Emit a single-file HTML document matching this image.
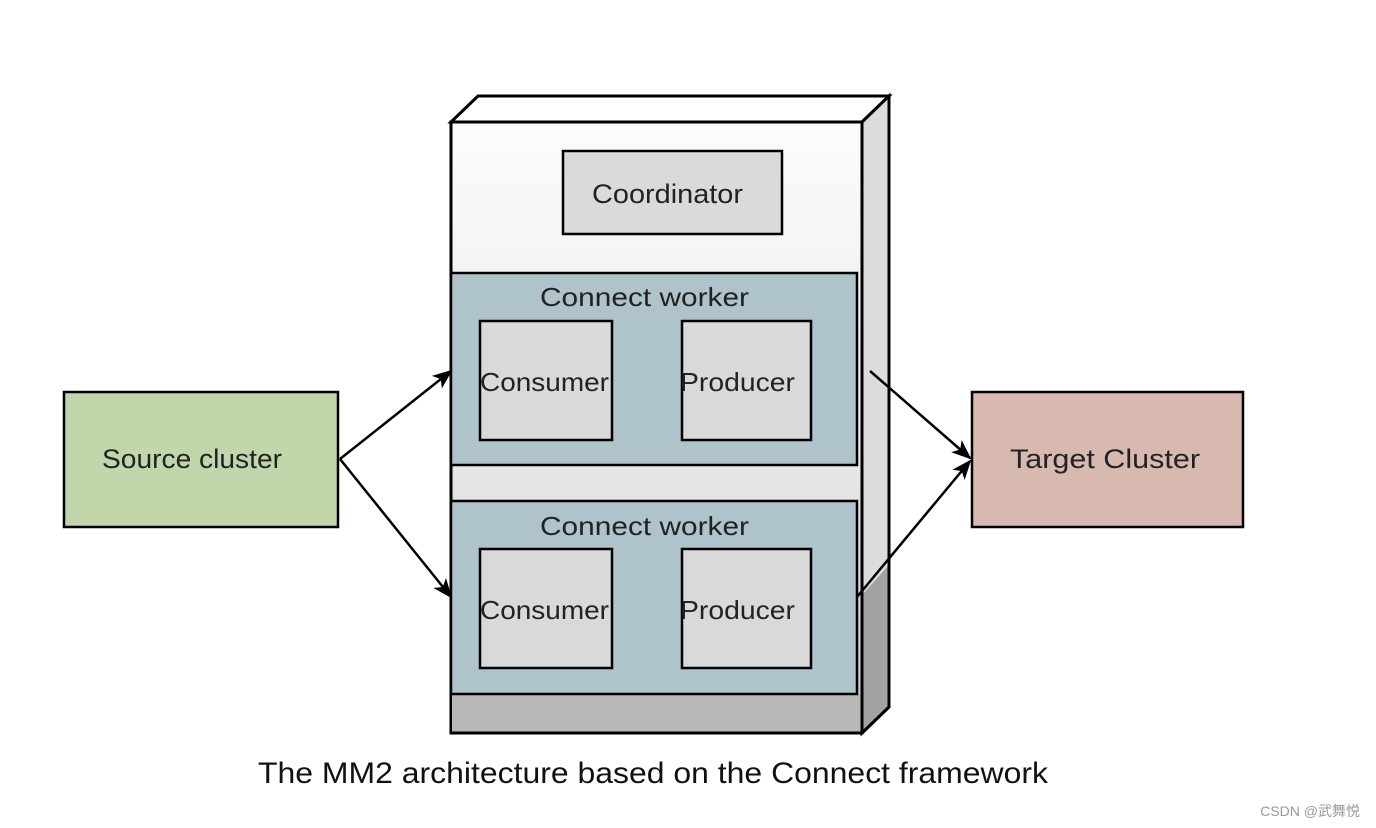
<!DOCTYPE html>
<html><head><style>body{margin:0;background:#fff}svg{display:block}</style></head><body>
<svg width="1376" height="828" viewBox="0 0 1376 828" xmlns="http://www.w3.org/2000/svg" font-family="Liberation Sans, sans-serif">
<defs>
<linearGradient id="fr" x1="0" y1="0" x2="0" y2="1"><stop offset="0" stop-color="#fcfcfc"/><stop offset="0.5" stop-color="#ececec"/><stop offset="1" stop-color="#c8c8c8"/></linearGradient>
<marker id="ar" markerWidth="20" markerHeight="20" refX="18" refY="8" orient="auto" markerUnits="userSpaceOnUse" viewBox="0 0 20 16"><path d="M0,0 L20,8 L0,16 L5,8 z" fill="#000"/></marker>
</defs>
<rect width="1376" height="828" fill="#fff"/>
<polygon points="451,122 478,96 889,96 862,122" fill="#fff" stroke="#000" stroke-width="3"/>
<polygon points="862,122 889,96 889,707 862,733" fill="#dcdcdc" stroke="#000" stroke-width="3"/>
<polygon points="862,595 889,565 889,707 862,733" fill="#a2a2a2"/>
<rect x="451" y="122" width="411" height="611" fill="url(#fr)" stroke="#000" stroke-width="3"/>
<rect x="452" y="694" width="409" height="38" fill="#b8b8b8"/>
<line x1="451" y1="733" x2="862" y2="733" stroke="#000" stroke-width="3"/>
<line x1="862" y1="122" x2="862" y2="733" stroke="#000" stroke-width="3"/>
<polyline points="862,733 889,707 889,96" fill="none" stroke="#000" stroke-width="3"/>
<rect x="563" y="151" width="219" height="83" fill="#dadada" stroke="#000" stroke-width="2.5"/>
<text x="592" y="203" font-size="27" textLength="151" lengthAdjust="spacingAndGlyphs" fill="#222">Coordinator</text>
<rect x="451" y="273" width="406" height="192" fill="#afc3ca" stroke="#000" stroke-width="2.5"/>
<text x="540" y="306" font-size="26" textLength="209" lengthAdjust="spacingAndGlyphs" fill="#222">Connect worker</text>
<rect x="480" y="321" width="132" height="119" fill="#d9d9d9" stroke="#000" stroke-width="2.5"/>
<text x="480" y="391" font-size="26" textLength="129" lengthAdjust="spacingAndGlyphs" fill="#222">Consumer</text>
<rect x="682" y="321" width="129" height="119" fill="#d9d9d9" stroke="#000" stroke-width="2.5"/>
<text x="680" y="391" font-size="26" textLength="115" lengthAdjust="spacingAndGlyphs" fill="#222">Producer</text>
<rect x="451" y="501" width="406" height="193" fill="#afc3ca" stroke="#000" stroke-width="2.5"/>
<text x="540" y="535" font-size="26" textLength="209" lengthAdjust="spacingAndGlyphs" fill="#222">Connect worker</text>
<rect x="480" y="549" width="132" height="119" fill="#d9d9d9" stroke="#000" stroke-width="2.5"/>
<text x="480" y="619" font-size="26" textLength="129" lengthAdjust="spacingAndGlyphs" fill="#222">Consumer</text>
<rect x="682" y="549" width="129" height="119" fill="#d9d9d9" stroke="#000" stroke-width="2.5"/>
<text x="680" y="619" font-size="26" textLength="115" lengthAdjust="spacingAndGlyphs" fill="#222">Producer</text>
<rect x="64" y="392" width="274" height="135" fill="#c1d6ab" stroke="#000" stroke-width="2.5"/>
<text x="102" y="468" font-size="27" textLength="180" lengthAdjust="spacingAndGlyphs" fill="#222">Source cluster</text>
<rect x="972" y="392" width="271" height="135" fill="#d8b9b0" stroke="#000" stroke-width="2.5"/>
<text x="1010" y="468" font-size="27" textLength="190" lengthAdjust="spacingAndGlyphs" fill="#222">Target Cluster</text>
<g stroke="#000" stroke-width="2.5" fill="none">
<line x1="340" y1="459" x2="451" y2="371" marker-end="url(#ar)"/>
<line x1="340" y1="459" x2="451" y2="597" marker-end="url(#ar)"/>
<line x1="870" y1="371" x2="970" y2="458" marker-end="url(#ar)"/>
<line x1="857" y1="597" x2="970" y2="461" marker-end="url(#ar)"/>
</g>
<text x="258" y="783" font-size="30" textLength="790" lengthAdjust="spacingAndGlyphs" fill="#111">The MM2 architecture based on the Connect framework</text>
<text x="1360" y="816" font-size="14" text-anchor="end" fill="#999" font-family="Liberation Sans, Noto Sans CJK SC, sans-serif">CSDN @武舞悦</text>
</svg>
</body></html>
